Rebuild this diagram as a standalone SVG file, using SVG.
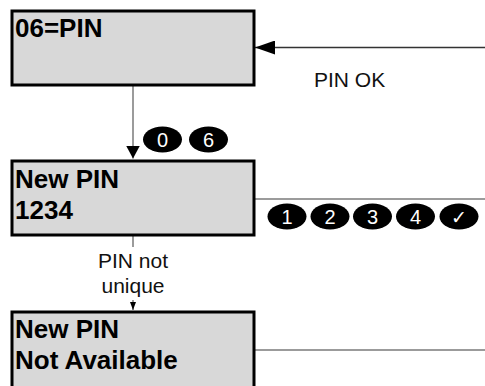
<svg xmlns="http://www.w3.org/2000/svg" width="485" height="386" viewBox="0 0 485 386">
<style>
.box{fill:#d8d8d8;stroke:#000;stroke-width:3}
.bt{font-family:"Liberation Sans",Arial,sans-serif;font-weight:bold;font-size:26px;fill:#000}
.lbl{font-family:"Liberation Sans",Arial,sans-serif;font-size:21px;fill:#111}
.key{fill:#000}
.kt{font-family:"Liberation Sans",Arial,sans-serif;font-size:20px;fill:#fff;text-anchor:middle}
.gl{stroke:#7a7a7a;stroke-width:1.5;fill:none}
.dl{stroke:#333;stroke-width:1.5;fill:none}
</style>
<defs>
<marker id="ah" markerUnits="userSpaceOnUse" markerWidth="20" markerHeight="14" refX="20" refY="7" orient="auto">
<path d="M0,0 L20,7 L0,14 Z" fill="#000"/>
</marker>
<marker id="ahd" markerUnits="userSpaceOnUse" markerWidth="13" markerHeight="14" refX="13" refY="7" orient="auto">
<path d="M0,0 L13,7 L0,14 Z" fill="#000"/>
</marker>
<marker id="ahs" markerUnits="userSpaceOnUse" markerWidth="8" markerHeight="6" refX="8" refY="3" orient="auto">
<path d="M0,0 L8,3 L0,6 Z" fill="#000"/>
</marker>
</defs>
<g id="connectors">
<line class="dl" x1="485" y1="47.5" x2="255" y2="47.5" marker-end="url(#ah)"/>
<line class="gl" x1="133" y1="86" x2="133" y2="158.5" marker-end="url(#ahd)"/>
<line class="gl" x1="254" y1="199" x2="485" y2="199"/>
<line class="gl" x1="133" y1="236" x2="133" y2="310" marker-end="url(#ahs)"/>
<line class="gl" x1="254" y1="350" x2="485" y2="350"/>
</g>
<g id="label-pin-ok"><text class="lbl" x="314" y="86.5">PIN OK</text></g>
<g id="label-not-unique">
<rect x="95" y="247" width="76" height="53" fill="#fff"/>
<text class="lbl" x="133" y="268" text-anchor="middle">PIN not</text>
<text class="lbl" x="133" y="293" text-anchor="middle">unique</text>
</g>
<g id="node-pin">
<rect class="box" x="12" y="11" width="242" height="74"/>
<text class="bt" x="15" y="36.5">06=PIN</text>
</g>
<g id="node-new-pin">
<rect class="box" x="12" y="161" width="242" height="74"/>
<text class="bt" x="15" y="188">New PIN</text>
<text class="bt" x="15" y="219">1234</text>
</g>
<g id="node-not-available">
<rect class="box" x="12" y="312" width="242" height="80"/>
<text class="bt" x="15" y="338">New PIN</text>
<text class="bt" x="15" y="369">Not Available</text>
</g>
<g id="keys-06">
<ellipse class="key" cx="162.5" cy="139.5" rx="19.5" ry="13"/>
<text class="kt" x="162.5" y="146.5">0</text>
<ellipse class="key" cx="208.5" cy="139.5" rx="19.5" ry="13"/>
<text class="kt" x="208.5" y="146.5">6</text>
</g>
<g id="keys-1234">
<ellipse class="key" cx="287" cy="216.5" rx="19.5" ry="13"/>
<text class="kt" x="287" y="223.5">1</text>
<ellipse class="key" cx="330" cy="216.5" rx="19.5" ry="13"/>
<text class="kt" x="330" y="223.5">2</text>
<ellipse class="key" cx="372.5" cy="216.5" rx="19.5" ry="13"/>
<text class="kt" x="372.5" y="223.5">3</text>
<ellipse class="key" cx="415.5" cy="216.5" rx="19.5" ry="13"/>
<text class="kt" x="415.5" y="223.5">4</text>
<ellipse class="key" cx="459" cy="216.5" rx="19.5" ry="13"/>
<text class="kt" x="459" y="224" style="font-family:'DejaVu Sans',sans-serif;font-weight:bold;font-size:19px">✓</text>
</g>
</svg>
